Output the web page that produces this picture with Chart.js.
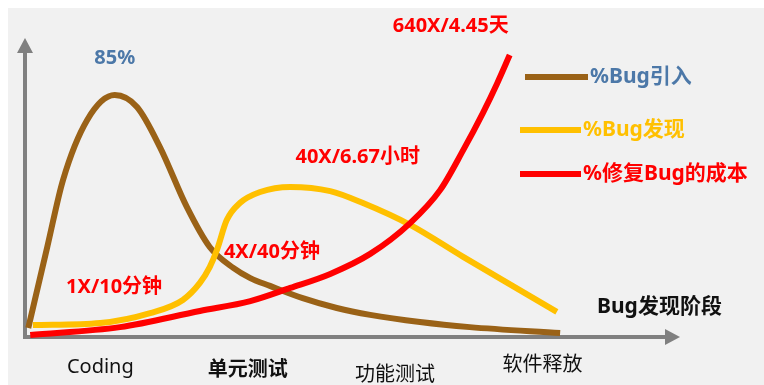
<!DOCTYPE html>
<html lang="zh">
<head>
<meta charset="UTF-8">
<title>Bug发现阶段</title>
<script src="https://cdn.jsdelivr.net/npm/chart.js"></script>
<style>
  html, body { margin: 0; padding: 0; background: #fff; }
  canvas { display: block; }
</style>
</head>
<body>
<canvas id="bugChart" width="764" height="385"></canvas>
<script>
// stage axis runs 0..100, value axis 0..100 (arbitrary units)
const stageLabels = ['Coding', '单元测试', '功能测试', '软件释放'];
const stagePos = [11.5, 34, 56.5, 79];

const seriesNames = ['%Bug引入', '%Bug发现', '%修复Bug的成本'];

const introX = [0.5, 3.4, 5.8, 9.5, 13.7, 17.1, 20.6, 24.7, 28.2, 31.8, 34.4, 37.4, 42.4, 47.6, 52.7, 60.3, 67.9, 81.7];
const introY = [3.0, 30.1, 52.5, 72.6, 80.9, 76.9, 63.5, 43.5, 30.1, 23.1, 19.7, 17.1, 13.0, 9.7, 7.4, 5.0, 3.3, 1.3];

const foundX = [1.2, 11.5, 19.1, 24.1, 26.7, 28.2, 29.3, 30.8, 32.8, 35.9, 40.5, 46.6, 51.6, 58.8, 66.9, 77.1, 81.2];
const foundY = [4.0, 4.7, 8.0, 12.4, 18.1, 23.4, 29.1, 39.1, 44.8, 48.5, 50.2, 48.8, 44.8, 37.5, 26.8, 13.7, 8.4];

const costX = [0.8, 14.5, 26.7, 34.4, 40.5, 46.6, 52.7, 58.8, 63.4, 66.9, 69.9, 72.1, 74.0];
const costY = [0.7, 3.3, 8.7, 12.0, 16.4, 21.1, 27.8, 38.1, 49.2, 62.5, 74.9, 84.9, 94.3];

const peakLabel = '85%';
const costLabels = ['1X/10分钟', '4X/40分钟', '40X/6.67小时', '640X/4.45天'];
const axisTitle = 'Bug发现阶段';

const brown = '#9A6217';
const yellow = '#FFC000';
const red = '#FF0000';
const blue = '#4C78A8';
const FONT = "'Noto Sans', 'Noto Sans CJK SC', sans-serif";

function pts(xs, ys) {
    return xs.map((x, i) => ({x: x, y: ys[i]}));
}

const decor = {
    id: 'decor',
    beforeDraw(chart) {
        const c = chart.ctx;
        c.save();
        c.fillStyle = '#fff';
        c.fillRect(0, 0, chart.width, chart.height);
        c.fillStyle = '#f1f1f1';
        c.fillRect(8, 8, chart.width - 8, chart.height - 8);
        c.restore();
    },
    beforeDatasetsDraw(chart) {
        const c = chart.ctx, a = chart.chartArea;
        c.save();
        c.strokeStyle = '#808080';
        c.fillStyle = '#808080';
        c.lineWidth = 4;
        c.beginPath();
        c.moveTo(a.left, a.bottom);
        c.lineTo(a.left, a.top + 12);
        c.moveTo(a.left - 2, a.bottom);
        c.lineTo(a.right - 12, a.bottom);
        c.stroke();
        // arrow heads
        c.beginPath();
        c.moveTo(a.left, a.top);
        c.lineTo(a.left - 8, a.top + 15);
        c.lineTo(a.left + 8, a.top + 15);
        c.closePath();
        c.fill();
        c.beginPath();
        c.moveTo(a.right, a.bottom);
        c.lineTo(a.right - 15, a.bottom - 8);
        c.lineTo(a.right - 15, a.bottom + 8);
        c.closePath();
        c.fill();
        c.restore();
    },
    afterDatasetsDraw(chart) {
        const c = chart.ctx, xs = chart.scales.x, ys = chart.scales.y;
        const px = v => xs.getPixelForValue(v), py = v => ys.getPixelForValue(v);
        c.save();
        c.textAlign = 'center';
        c.textBaseline = 'middle';

        c.font = 'bold 20px ' + FONT;
        c.fillStyle = blue;
        c.fillText(peakLabel, px(13.7), py(93.3));

        c.fillStyle = red;
        c.fillText(costLabels[0], px(13.6), py(16.7));
        c.fillText(costLabels[1], px(37.7), py(28.4));
        c.fillText(costLabels[2], px(50.8), py(60.2));
        c.fillText(costLabels[3], px(65.0), py(104));

        // stage labels under the axis
        c.fillStyle = '#111';
        const offs = [30, 33, 38, 28];
        stageLabels.forEach((s, i) => {
            c.font = (i === 1 ? 'bold ' : '') + '20px ' + FONT;
            c.fillText(s, px(stagePos[i]), chart.chartArea.bottom + offs[i]);
        });

        c.font = 'bold 21px ' + FONT;
        c.textAlign = 'left';
        c.fillText(axisTitle, 597, 307);

        // legend
        const leg = [[brown, 525, 588, 77, blue], [yellow, 520, 581, 130, yellow], [red, 520, 581, 174, red]];
        leg.forEach((l, i) => {
            c.strokeStyle = l[0];
            c.lineWidth = 6;
            c.beginPath();
            c.moveTo(l[1], l[3]);
            c.lineTo(l[2], l[3]);
            c.stroke();
            c.fillStyle = l[4];
            c.font = 'bold 21px ' + FONT;
            c.fillText(seriesNames[i], l[2] + 2, l[3]);
        });
        c.restore();
    }
};

new Chart(document.getElementById('bugChart'), {
    type: 'line',
    data: {
        datasets: [
            {label: seriesNames[2], data: pts(costX, costY), borderColor: red},
            {label: seriesNames[1], data: pts(foundX, foundY), borderColor: yellow},
            {label: seriesNames[0], data: pts(introX, introY), borderColor: brown}
        ]
    },
    options: {
        responsive: false,
        animation: false,
        layout: {padding: {left: 25, top: 38, right: 84, bottom: 48}},
        datasets: {
            line: {borderWidth: 6, pointRadius: 0, cubicInterpolationMode: 'monotone', clip: false, fill: false}
        },
        scales: {
            x: {type: 'linear', min: 0, max: 100, display: false},
            y: {min: 0, max: 100, display: false}
        },
        plugins: {legend: {display: false}, tooltip: {enabled: false}}
    },
    plugins: [decor]
});
</script>
</body>
</html>
